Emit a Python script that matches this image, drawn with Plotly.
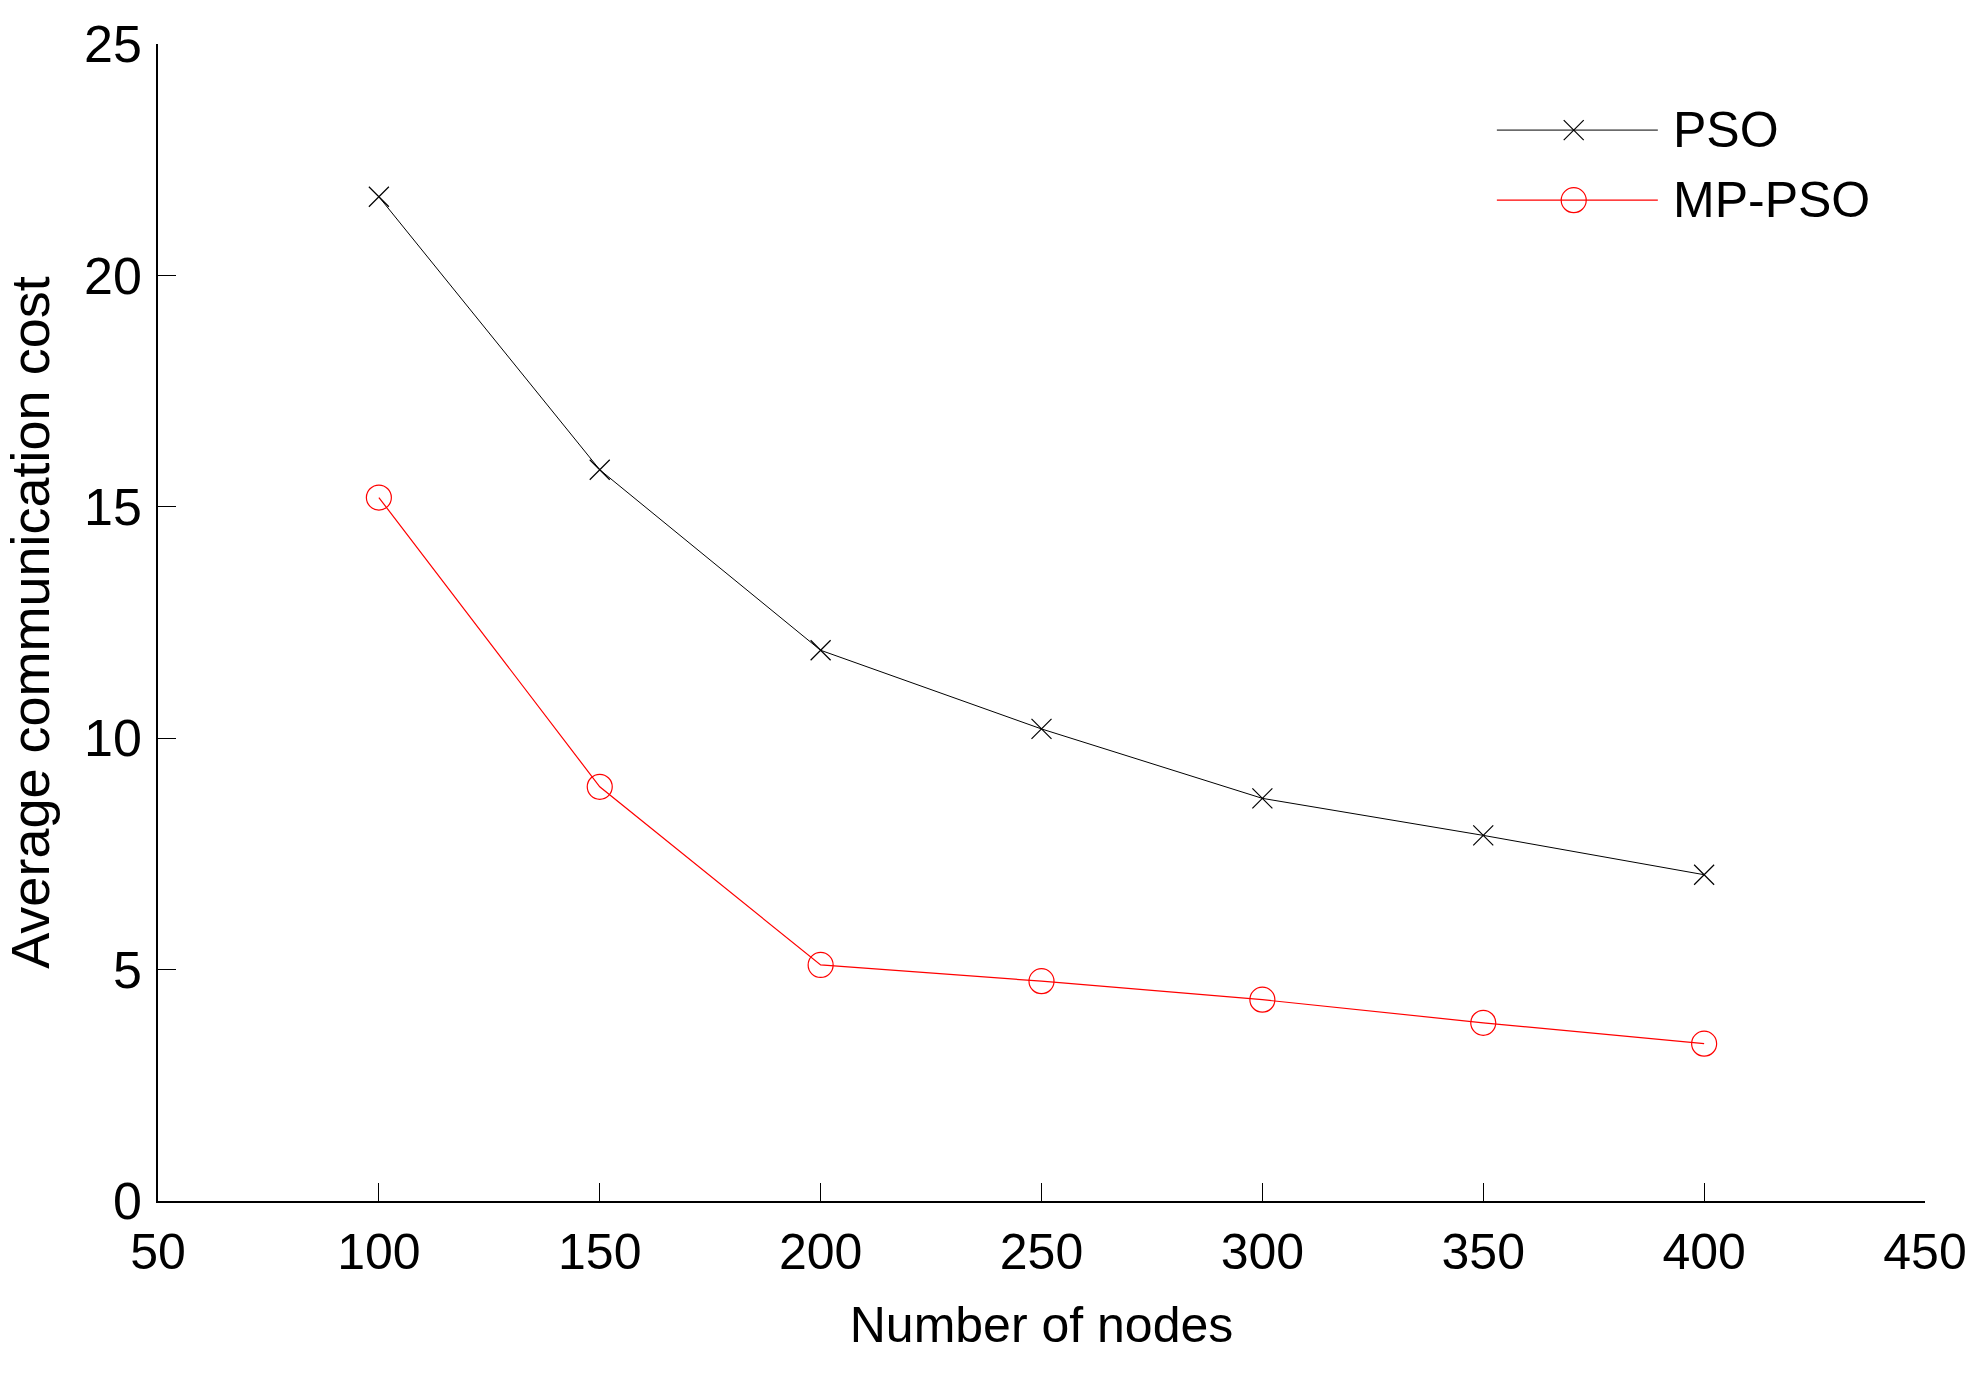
import plotly.graph_objects as go

# ---- data ----
nodes = [100, 150, 200, 250, 300, 350, 400]
pso = [21.7, 15.8, 11.9, 10.2, 8.7, 7.9, 7.05]
mp_pso = [15.2, 8.95, 5.1, 4.75, 4.35, 3.85, 3.4]
series_names = ["PSO", "MP-PSO"]
x_ticks = [50, 100, 150, 200, 250, 300, 350, 400, 450]
y_ticks = [0, 5, 10, 15, 20, 25]

FONT = "Arial, Liberation Sans, sans-serif"

fig = go.Figure()
fig.add_trace(go.Scatter(
    x=nodes, y=pso, mode="lines+markers", name=series_names[0],
    line=dict(color="black", width=1),
    marker=dict(symbol="x-thin", size=20, line=dict(color="black", width=1.2)),
    showlegend=False))
fig.add_trace(go.Scatter(
    x=nodes, y=mp_pso, mode="lines+markers", name=series_names[1],
    line=dict(color="red", width=1.2),
    marker=dict(symbol="circle-open", size=25, color="red", line=dict(color="red", width=1.2)),
    showlegend=False))

# ---- manual legend on an overlay axis (0..1 coordinates of the plot area) ----
leg_x0, leg_x1, leg_xm, leg_text_x = 0.7577, 0.8488, 0.8012, 0.856
leg_rows = [0.9256, 0.865]
styles = [
    dict(line=dict(color="black", width=1),
         marker=dict(symbol="x-thin", size=20, line=dict(color="black", width=1.2))),
    dict(line=dict(color="red", width=1.2),
         marker=dict(symbol="circle-open", size=25, color="red", line=dict(color="red", width=1.2))),
]
for name, yy, st in zip(series_names, leg_rows, styles):
    fig.add_trace(go.Scatter(x=[leg_x0, leg_x1], y=[yy, yy], mode="lines",
                             line=st["line"], xaxis="x2", yaxis="y2",
                             showlegend=False, hoverinfo="skip"))
    fig.add_trace(go.Scatter(x=[leg_xm], y=[yy], mode="markers",
                             marker=st["marker"], xaxis="x2", yaxis="y2",
                             showlegend=False, hoverinfo="skip"))
    fig.add_annotation(x=leg_text_x, y=yy, xref="x2", yref="y2", text=name,
                       showarrow=False, xanchor="left", yanchor="middle",
                       font=dict(family=FONT, size=50, color="black"))

fig.update_layout(
    width=1974, height=1373,
    margin=dict(l=158, r=49, t=44, b=172, autoexpand=False),
    paper_bgcolor="white", plot_bgcolor="white",
    font=dict(family=FONT, color="black"),
    xaxis=dict(range=[50, 450], tickvals=x_ticks, ticktext=[str(v) for v in x_ticks],
               automargin=False,
               showgrid=False, zeroline=False, showline=True, linecolor="black", linewidth=1.5,
               ticks="inside", ticklen=18, tickwidth=1.2, tickcolor="black",
               tickfont=dict(family=FONT, size=50), ticklabelstandoff=6,
               title=dict(text="Number of nodes", font=dict(family=FONT, size=50), standoff=28)),
    yaxis=dict(range=[0, 25], tickvals=y_ticks, ticktext=[str(v) for v in y_ticks],
               automargin=False,
               showgrid=False, zeroline=False, showline=True, linecolor="black", linewidth=1.5,
               ticks="inside", ticklen=18, tickwidth=1.2, tickcolor="black",
               tickfont=dict(family=FONT, size=52), ticklabelstandoff=4,
               title=dict(text="Average communication cost", font=dict(family=FONT, size=54), standoff=18)),
    xaxis2=dict(domain=[0, 1], range=[0, 1], overlaying="x", visible=False, fixedrange=True),
    yaxis2=dict(domain=[0, 1], range=[0, 1], overlaying="y", visible=False, fixedrange=True),
)

fig.write_html("out.html", config={"displayModeBar": False},
               post_script="document.body.style.margin='0px';document.body.style.overflow='hidden';")
